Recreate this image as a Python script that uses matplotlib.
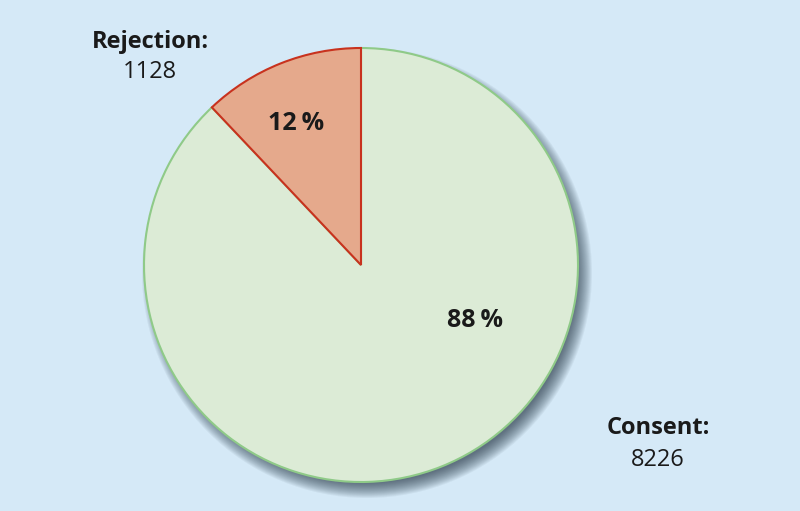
import matplotlib.pyplot as plt
from matplotlib.patches import Circle

# data
labels = ["Rejection", "Consent"]
counts = [1128, 8226]
percents = ["12\u2009%", "88\u2009%"]

bg = "#d5e9f7"
fills = ["#e5a98c", "#dcebd6"]
edges = ["#c8321e", "#8fca88"]

plt.rcParams["font.family"] = ["Open Sans", "DejaVu Sans"]

fig = plt.figure(figsize=(8, 5.11), dpi=100)
fig.patch.set_facecolor(bg)
ax = fig.add_axes([0, 0, 1, 1])
ax.set_facecolor(bg)

cx, cy, r = 361, 246, 217

# soft drop shadow
for i in range(16):
    ax.add_patch(Circle((cx + 6, cy - 8), r + 8 - i, color="#1a2a3a", alpha=0.055, lw=0, zorder=1))

wedges, _ = ax.pie(counts, startangle=90, counterclock=True, center=(cx, cy), radius=r,
                   colors=fills, wedgeprops=dict(linewidth=1.5), frame=True)
for w, ec in zip(wedges, edges):
    w.set_edgecolor(ec)
    w.set_zorder(3)
wedges[0].set_zorder(4)

ax.set_xlim(0, 800)
ax.set_ylim(0, 511)
ax.set_aspect("equal")
ax.axis("off")

# percentages inside slices
ax.text(296, 388, percents[0], ha="center", va="center", fontsize=18, fontweight="bold", color="#1a1a1a", zorder=5)
ax.text(475, 191, percents[1], ha="center", va="center", fontsize=18, fontweight="bold", color="#1a1a1a", zorder=5)

# outside labels
ax.text(150, 469, labels[0] + ":", ha="center", va="center", fontsize=17, fontweight="bold", color="#1a1a1a")
ax.text(150, 439, str(counts[0]), ha="center", va="center", fontsize=17, color="#1a1a1a")
ax.text(658, 83, labels[1] + ":", ha="center", va="center", fontsize=17, fontweight="bold", color="#1a1a1a")
ax.text(658, 51, str(counts[1]), ha="center", va="center", fontsize=17, color="#1a1a1a")

fig.savefig("out.png", dpi=100, facecolor=bg)
